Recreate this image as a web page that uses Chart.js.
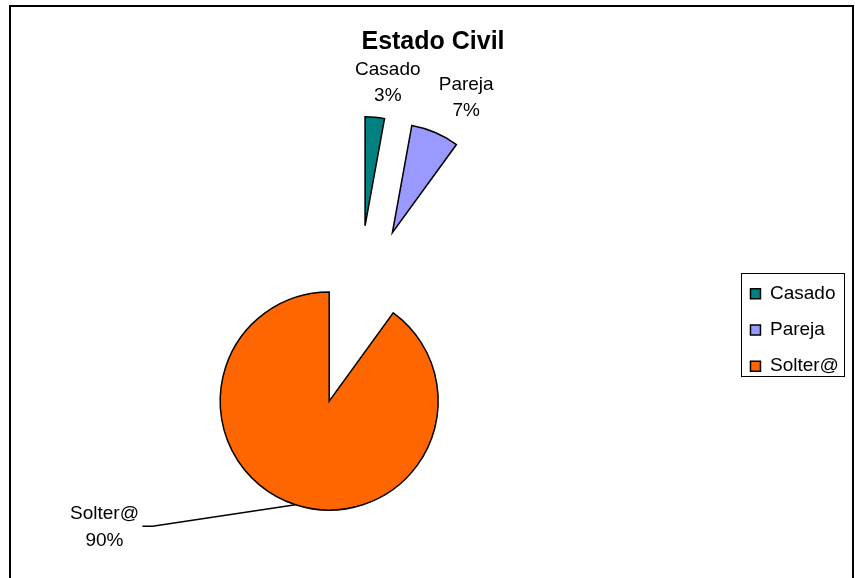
<!DOCTYPE html>
<html>
<head>
<meta charset="utf-8">
<script src="https://cdn.jsdelivr.net/npm/chart.js@4.4.1/dist/chart.umd.min.js"></script>
<style>
  html, body { margin: 0; padding: 0; background: #ffffff; }
  canvas { display: block; }
</style>
</head>
<body>
<canvas id="chart" width="855" height="578"></canvas>
<script>
// ---- data ----
const chartTitle = 'Estado Civil';
const categories = ['Casado', 'Pareja', 'Solter@'];
const counts = [2, 5, 63];
const sliceColors = ['#008080', '#9999FF', '#FF6600'];

// ---- style ----
const FONT = "'Liberation Sans', Arial, Helvetica, sans-serif";
const EXPLODE = 90;          // explosion distance of every slice (px)
const PIE_RADIUS = 109;
const LABEL_SIZE = 19;
const LABEL_LINE = 26.5;
const labelOffsets = [[13, -36], [31, -36.5], [-191, 21]]; // label centre relative to slice outer point
const leaderLines = [false, false, true];

const total = counts.reduce((a, b) => a + b, 0);
const percentText = counts.map(v => Math.round(v * 100 / total) + '%');

Chart.defaults.font.family = FONT;
Chart.defaults.color = '#000';

// white background + outer frame
const framePlugin = {
  id: 'frame',
  beforeDraw(chart) {
    const ctx = chart.ctx;
    ctx.save();
    ctx.fillStyle = '#fff';
    ctx.fillRect(0, 0, chart.width, chart.height);
    ctx.restore();
  },
  afterDraw(chart) {
    const ctx = chart.ctx;
    ctx.save();
    ctx.strokeStyle = '#000';
    ctx.lineWidth = 2;
    ctx.beginPath();
    ctx.moveTo(10, chart.height + 3);
    ctx.lineTo(10, 6);
    ctx.lineTo(853, 6);
    ctx.lineTo(853, chart.height + 3);
    ctx.stroke();
    ctx.restore();
  }
};

// gap box between plot and legend
const legendGapPlugin = {
  id: 'legendGap',
  beforeInit(chart, args, opts) {
    Chart.layouts.addBox(chart, {
      position: 'right', weight: 0, fullSize: false, options: {},
      left: 0, top: 0, right: 0, bottom: 0, width: 0, height: 0,
      isHorizontal() { return false; },
      update(maxWidth, maxHeight) { this.width = opts.width; this.height = maxHeight; },
      draw() {}
    });
  }
};

// exploded slices: each arc drawn by Chart.js, shifted along its mid angle
const explodePlugin = {
  id: 'explode',
  beforeDatasetDraw(chart, args, opts) {
    const ctx = chart.ctx;
    args.meta.data.forEach(arc => {
      const mid = (arc.startAngle + arc.endAngle) / 2;
      ctx.save();
      ctx.translate(Math.cos(mid) * opts.distance, Math.sin(mid) * opts.distance);
      arc.draw(ctx);
      ctx.restore();
    });
    return false;
  }
};

// data labels (category + percent) with optional leader line
const sliceLabelsPlugin = {
  id: 'sliceLabels',
  afterDatasetsDraw(chart, args, opts) {
    const ctx = chart.ctx;
    const dist = chart.options.plugins.explode.distance;
    const meta = chart.getDatasetMeta(0);
    ctx.save();
    ctx.font = LABEL_SIZE + 'px ' + FONT;
    ctx.fillStyle = '#000';
    ctx.strokeStyle = '#000';
    ctx.lineWidth = 1.5;
    ctx.textAlign = 'center';
    ctx.textBaseline = 'alphabetic';
    const capH = LABEL_SIZE * 0.716;
    meta.data.forEach((arc, i) => {
      const mid = (arc.startAngle + arc.endAngle) / 2;
      const r = arc.outerRadius + dist;
      const px = arc.x + Math.cos(mid) * r;
      const py = arc.y + Math.sin(mid) * r;
      const cx = px + opts.offsets[i][0];
      const cy = py + opts.offsets[i][1];
      const lines = [categories[i], percentText[i]];
      const b1 = cy + capH / 2 - LABEL_LINE / 2;
      lines.forEach((t, k) => ctx.fillText(t, cx, b1 + k * LABEL_LINE));
      if (opts.leaders[i]) {
        const w = Math.max(...lines.map(t => ctx.measureText(t).width));
        const ex = cx + w / 2 + 3.5;
        ctx.beginPath();
        ctx.moveTo(px, py);
        ctx.lineTo(ex + 10, cy + 0.5);
        ctx.lineTo(ex, cy + 0.5);
        ctx.stroke();
      }
    });
    ctx.restore();
  }
};

// frame around legend
const legendFramePlugin = {
  id: 'legendFrame',
  afterDraw(chart, args, opts) {
    const boxes = chart.legend && chart.legend.legendHitBoxes;
    if (!boxes || !boxes.length) return;
    const left = Math.min(...boxes.map(b => b.left)) - opts.pad.left;
    const top = Math.min(...boxes.map(b => b.top)) - opts.pad.top;
    const right = Math.max(...boxes.map(b => b.left + b.width)) + opts.pad.right;
    const bottom = Math.max(...boxes.map(b => b.top + b.height)) + opts.pad.bottom;
    const ctx = chart.ctx;
    ctx.save();
    ctx.strokeStyle = '#000';
    ctx.lineWidth = 1;
    ctx.strokeRect(Math.round(left) + 0.5, Math.round(top) + 0.5, Math.round(right - left), Math.round(bottom - top));
    ctx.restore();
  }
};

new Chart(document.getElementById('chart'), {
  type: 'pie',
  data: {
    labels: categories,
    datasets: [{
      data: counts,
      backgroundColor: sliceColors,
      borderColor: '#000',
      borderWidth: 1.5,
      borderJoinStyle: 'miter'
    }]
  },
  options: {
    responsive: false,
    animation: false,
    events: [],
    radius: PIE_RADIUS,
    layout: { padding: { top: 10, bottom: 4, left: 17.1, right: 6.1 } },
    plugins: {
      title: {
        display: true,
        text: chartTitle,
        color: '#000',
        font: { family: FONT, size: 25, weight: 'bold' },
        padding: { top: 17, bottom: 0 }
      },
      legend: {
        display: true,
        position: 'right',
        fullSize: false,
        align: 'center',
        title: { display: true, text: '', font: { size: 12 }, padding: { top: 14.6, bottom: 0 } },
        labels: {
          color: '#000',
          font: { family: FONT, size: 19 },
          boxWidth: 10,
          boxHeight: 10,
          padding: 17.25
        }
      },
      tooltip: { enabled: false },
      explode: { distance: EXPLODE },
      sliceLabels: { offsets: labelOffsets, leaders: leaderLines },
      legendGap: { width: 36.35 },
      legendFrame: { pad: { left: 9, top: 11, right: 6, bottom: 0 } }
    }
  },
  plugins: [framePlugin, legendGapPlugin, explodePlugin, sliceLabelsPlugin, legendFramePlugin]
});
</script>
</body>
</html>
